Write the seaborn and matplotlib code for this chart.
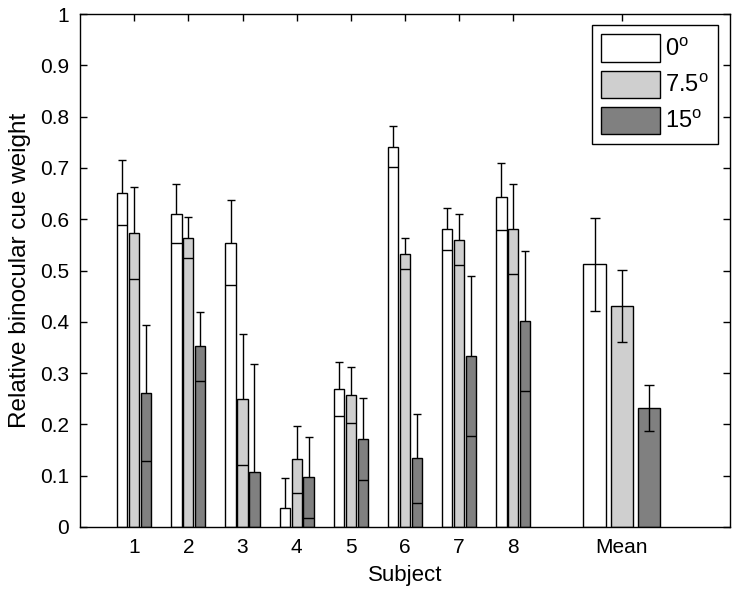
import numpy as np
import pandas as pd
import matplotlib
matplotlib.use("Agg")
import matplotlib.pyplot as plt
import seaborn as sns
from matplotlib.patches import Patch

# values
subjects = [1, 2, 3, 4, 5, 6, 7, 8]
angles = ["0", "7.5", "15"]
w_0 = [0.652, 0.611, 0.554, 0.038, 0.269, 0.741, 0.581, 0.644]
w_75 = [0.573, 0.564, 0.249, 0.132, 0.257, 0.533, 0.560, 0.581]
w_15 = [0.261, 0.352, 0.107, 0.097, 0.172, 0.134, 0.334, 0.402]
err_0 = [0.064, 0.057, 0.083, 0.058, 0.053, 0.040, 0.041, 0.065]
err_75 = [0.089, 0.040, 0.128, 0.065, 0.055, 0.030, 0.050, 0.088]
err_15 = [0.133, 0.068, 0.210, 0.079, 0.080, 0.087, 0.156, 0.136]
mean_w = [0.512, 0.431, 0.232]
mean_err = [0.090, 0.070, 0.045]
xtick_labels = ["1", "2", "3", "4", "5", "6", "7", "8", "Mean"]

colors = ["#ffffff", "#cfcfcf", "#808080"]

sns.set_style("ticks")
plt.rcParams["font.family"] = ["Liberation Sans", "DejaVu Sans"]
plt.rcParams["mathtext.fontset"] = "custom"
plt.rcParams["mathtext.rm"] = "Liberation Sans"
plt.rcParams["mathtext.it"] = "Liberation Sans"
plt.rcParams["text.color"] = "black"
plt.rcParams["axes.labelcolor"] = "black"

df = pd.DataFrame({
    "Subject": subjects * 3,
    "Angle": np.repeat(angles, len(subjects)),
    "Weight": w_0 + w_75 + w_15,
})

fig = plt.figure(figsize=(7.39, 6.0), dpi=100)
ax = fig.add_axes([80 / 739, 73 / 600, 650 / 739, 513 / 600])

group_w = 0.66
gap = 0.14
sns.barplot(data=df, x="Subject", y="Weight", hue="Angle", hue_order=angles,
            palette=dict(zip(angles, colors)), native_scale=True, width=group_w,
            gap=gap, errorbar=None, edgecolor="black", linewidth=1,
            legend=False, ax=ax, zorder=2)

# error bars: upper half shows above the bar, lower cap drawn across the bar
slot = group_w / 3
bar_w = slot * (1 - gap)
for h, (w, e) in enumerate([(w_0, err_0), (w_75, err_75), (w_15, err_15)]):
    xs = np.array(subjects) + (h - 1) * slot
    w = np.array(w)
    e = np.array(e)
    ax.errorbar(xs, w, yerr=e, fmt="none", ecolor="black", elinewidth=1,
                capsize=3, capthick=1, zorder=1)
    ax.hlines(w - e, xs - bar_w / 2, xs + bar_w / 2, color="black", lw=1, zorder=3)

# mean group at x = 10
mean_x = np.array([9.5, 10.0, 10.5])
ax.bar(mean_x, mean_w, width=0.41, color=colors, edgecolor="black", linewidth=1, zorder=2)
ax.errorbar(mean_x, mean_w, yerr=mean_err, fmt="none", ecolor="black", elinewidth=1,
            capsize=3.5, capthick=1, zorder=3)

ax.set_xlim(0, 12)
ax.set_ylim(0, 1)
ax.set_xticks(subjects + [10])
ax.set_xticklabels(xtick_labels)
yt = np.round(np.arange(0, 1.01, 0.1), 1)
ax.set_yticks(yt)
ax.set_yticklabels(["0"] + [f"{v:.1f}" for v in yt[1:-1]] + ["1"])
ax.tick_params(direction="in", top=True, right=True, length=5, width=1,
               labelsize=15, colors="black", labelcolor="black", pad=8)
for s in ax.spines.values():
    s.set_linewidth(1)
    s.set_color("black")
    s.set_visible(True)
ax.set_xlabel("Subject", fontsize=16, labelpad=6)
ax.set_ylabel("Relative binocular cue weight", fontsize=17.5, labelpad=6)

handles = [Patch(facecolor=c, edgecolor="black", linewidth=1) for c in colors]
labels = [a + "$^{\\rm o}$" for a in angles]
leg = ax.legend(handles, labels, loc="upper right", bbox_to_anchor=(0.9815, 0.9786),
                borderaxespad=0, fontsize=17, handlelength=2.5, handleheight=1.4,
                handletextpad=0.2, labelspacing=0.38, borderpad=0.4,
                fancybox=False, framealpha=1, edgecolor="black")
leg.get_frame().set_linewidth(1)

fig.savefig("out.png", dpi=100)
